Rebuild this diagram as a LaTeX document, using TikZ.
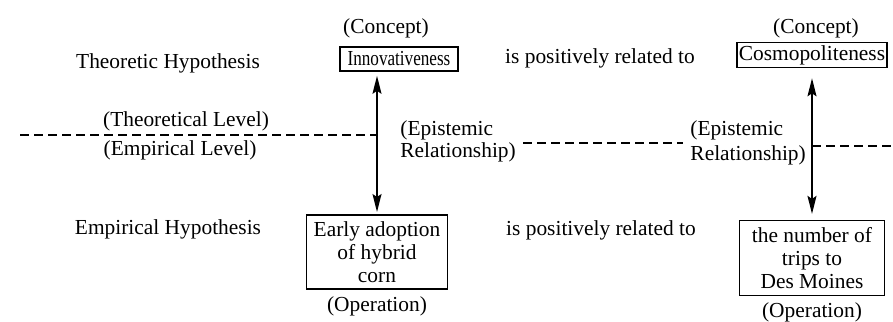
\documentclass[tikz,border=0pt]{standalone}
\usepackage{fontspec}
\setmainfont{Liberation Serif}
\usetikzlibrary{arrows.meta,positioning}

\begin{document}
\begin{tikzpicture}[x=0.5pt,y=-0.5pt,>={Stealth[length=9pt,width=4.5pt,inset=1.5pt]},thick,node distance=27pt,
		font=\fontsize{10.7}{11.5}\selectfont,
		concept/.style={rectangle,draw,line width=0.8pt,inner sep=1.5pt,minimum height=12pt},
		operation/.style={rectangle,draw,line width=0.8pt,align=center},
		level/.style={dash pattern=on 4.5pt off 2.5pt,line width=1.1pt}]

		\useasboundingbox (0,0) rectangle (893,321);

		% upper row
		\node (TheoHyp) at (168,63) {Theoretic Hypothesis};
		\node[concept,minimum width=59pt] (Inno) at (399,59) {\scalebox{0.8}[1]{Innovativeness}};
		\node (RelTop) at (600,58) {is positively related to};
		\node[concept,inner sep=1pt,minimum height=12.5pt] (Cosmo) at (812,55) {Cosmopoliteness};
		\node (ConL) at (386,28) {(Concept)};
		\node (ConR) at (816,28) {(Concept)};

		% lower row
		\node (EmpHyp) at (168,229) {Empirical Hypothesis};
		\node[operation,minimum width=70.5pt,minimum height=35.5pt] (Early) at (377,252) {Early adoption\\of hybrid\\corn};
		\node (RelBot) at (601,230) {is positively related to};
		\node[operation,minimum width=72.5pt,minimum height=37pt] (Trips) at (812,258) {the number of\\trips to\\Des Moines};
		\node (OpL) [below of=Early] {(Operation)};
		\node (OpR) [below of=Trips] {(Operation)};

		% levels
		\node (TheoLev) at (186,121) {(Theoretical Level)};
		\node (EmpLev) at (180,150) {(Empirical Level)};
		\node[align=left,anchor=west,font=\fontsize{10.7}{11}\selectfont] (EpiL) at (393,141) {(Epistemic\\Relationship)};
		\node[align=left,anchor=west,font=\fontsize{10.7}{12.5}\selectfont] (EpiR) at (683,143) {(Epistemic\\Relationship)};
		\coordinate (LevStart) at (20,135);
		\coordinate (LevEnd) at (893,146);

		\draw[level] (LevStart) -- (LevStart -| Early.north);
		\draw[level] (EpiL.east |- 0,143) -- (EpiR.west |- 0,143);
		\draw[level] (Trips.north |- LevEnd) -- (LevEnd);

		% epistemic arrows
		\draw[<->,shorten <=2pt,shorten >=1pt] (Early.north |- Inno.south) -- (Early.north);
		\draw[<->,shorten <=5pt,shorten >=3pt] (Cosmo.south) -- (Trips.north);
	\end{tikzpicture}
\end{document}
